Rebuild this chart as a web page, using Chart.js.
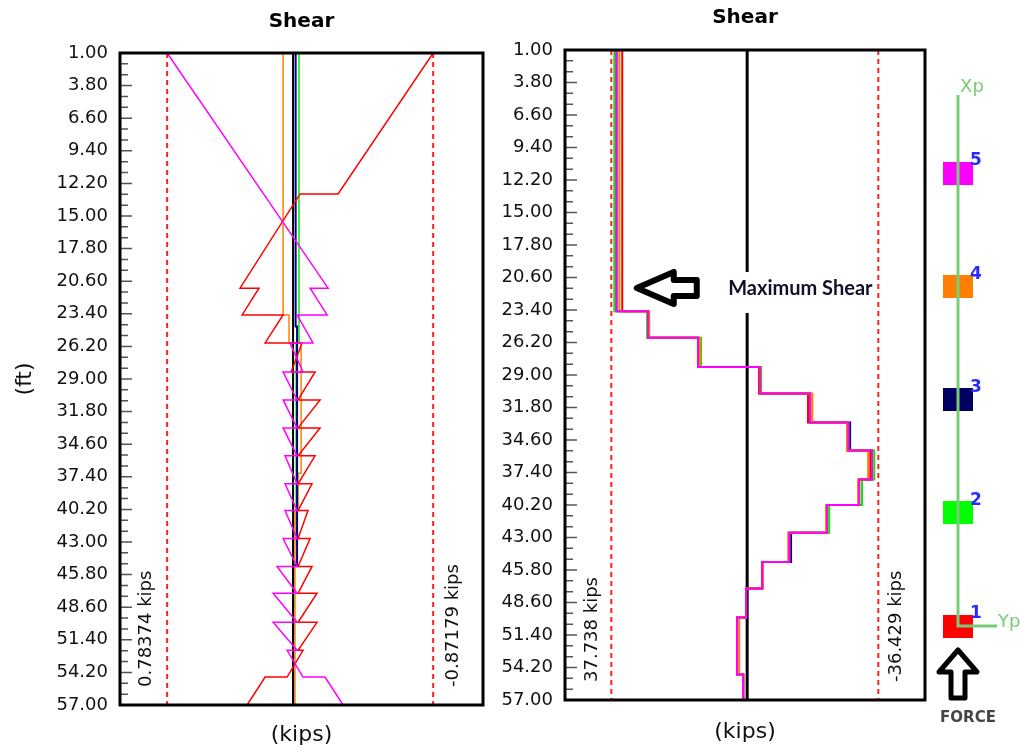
<!DOCTYPE html>
<html>
<head>
<meta charset="utf-8">
<script src="https://cdn.jsdelivr.net/npm/chart.js@4.4.1/dist/chart.umd.min.js"></script>
<style>
  html, body { margin: 0; padding: 0; background: #fff; }
  body { width: 1020px; height: 750px; position: relative; overflow: hidden; }
  canvas { position: absolute; top: 0; }
  #leftChart { left: 0; }
  #rightChart { left: 495px; }
  #pileChart { left: 930px; }
</style>
</head>
<body>
<canvas id="leftChart" width="495" height="750"></canvas>
<canvas id="rightChart" width="445" height="750"></canvas>
<canvas id="pileChart" width="90" height="750"></canvas>
<script>
const FONT = "'DejaVu Sans', sans-serif";

// depth axis labels (ft)
const depthTicks = [1.00, 3.80, 6.60, 9.40, 12.20, 15.00, 17.80, 20.60, 23.40, 26.20, 29.00,
  31.80, 34.60, 37.40, 40.20, 43.00, 45.80, 48.60, 51.40, 54.20, 57.00];

// ---- left panel (small shear, kips) ----
const leftMax = 0.78374;
const leftMin = -0.87179;

const leftMagentaDepth = [1, 21.2, 21.2, 23.5, 23.5, 25.9, 25.9, 28.4, 28.4, 30.8, 30.8, 33.2, 33.2,
  35.6, 35.6, 38.0, 38.0, 40.3, 40.3, 42.7, 42.7, 45.1, 45.1, 47.4, 47.4, 49.9, 49.9, 52.3, 52.3,
  54.6, 54.6, 57];
const leftMagentaShear = [0.78374, -0.218, -0.106, -0.212, -0.025, -0.124, 0.019, -0.062, 0.062, -0.025,
  0.062, -0.025, 0.062, -0.025, 0.050, -0.025, 0.050, -0.025, 0.050, -0.025, 0.062, -0.025, 0.100,
  -0.025, 0.124, -0.025, 0.124, -0.025, 0.037, -0.062, -0.199, -0.311];

const leftRedDepth = [1, 13.1, 13.1, 21.2, 21.2, 23.5, 23.5, 25.9, 25.9, 28.4, 28.4, 30.8, 30.8, 33.2,
  33.2, 35.6, 35.6, 38.0, 38.0, 40.3, 40.3, 42.7, 42.7, 45.1, 45.1, 47.4, 47.4, 49.9, 49.9, 52.3,
  52.3, 54.6, 54.6, 57];
const leftRedShear = [-0.87179, -0.280, -0.044, 0.330, 0.212, 0.317, 0.062, 0.174, -0.056, 0.012, -0.137,
  -0.031, -0.168, -0.031, -0.168, -0.031, -0.137, -0.031, -0.118, -0.031, -0.093, -0.031, -0.106,
  -0.031, -0.118, -0.031, -0.149, -0.031, -0.149, -0.031, -0.062, 0.037, 0.174, 0.286];

const leftOrangeDepth = [1, 23.5, 25.9, 37.1, 40.3, 57];
const leftOrangeShear = [0.062, 0.025, -0.050, -0.031, -0.012, -0.012];
const leftGreenDepth = [1, 25.9, 42.3, 57];
const leftGreenShear = [-0.037, -0.019, 0, 0];
const leftNavyDepth = [1, 24.5, 45.0, 57];
const leftNavyShear = [-0.016, -0.025, 0, 0];

// ---- right panel (step shear, kips) ----
const rightMax = 37.738;
const rightMin = -36.429;
const rightDepth = [1, 23.5, 25.8, 28.3, 30.6, 33.1, 35.5, 38.0, 40.2, 42.6, 45.1, 47.4, 49.9, 54.8, 57];
const rightMagenta = [36.3, 27.5, 13.6, -3.6, -17.5, -28.1, -34.7, -31.1, -22.2, -11.7, -4.2, 0.3, 2.8, 1.1, 1.1];
const rightOrange = [35.5, 27.2, 13.1, -3.6, -18.1, -27.8, -33.6, -30.8, -21.9, -11.4, -4.4, 0.3, 2.2, 1.1, 1.1];
const rightRed = [34.7, 27.5, 13.6, -3.3, -16.9, -27.8, -34.2, -31.1, -22.2, -11.7, -4.2, 0.3, 2.8, 1.1, 1.1];
const rightGreen = [36.9, 27.8, 12.8, -3.9, -17.5, -28.1, -35.3, -31.9, -22.8, -11.7, -4.2, 0.3, 2.8, 1.1, 1.1];
const rightNavy = [36.3, 27.5, 13.6, -3.6, -17.5, -28.6, -34.7, -31.1, -22.2, -12.2, -4.2, 0.3, 2.8, 1.1, 1.1];

// ---- pile diagram ----
const nodeLabels = ['1', '2', '3', '4', '5'];
const nodeLevels = [1, 2, 3, 4, 5];
const nodeColors = ['#ff0000', '#00ff00', '#000060', '#ff8000', '#ff00ff'];
const xpTop = 5.69;
const ypLength = 39;

function toPoints(depths, shear) {
  return depths.map((d, i) => ({ x: shear[i], y: d }));
}

function trace(data, color, width, stepped) {
  return {
    data: data, borderColor: color, backgroundColor: color, borderWidth: width,
    showLine: true, pointRadius: 0, pointHoverRadius: 0, fill: false, stepped: stepped || false
  };
}

function dashed(value, width) {
  const t = trace(toPoints([1, 57], [value, value]), '#ff2020', width);
  t.borderDash = [5, 4];
  return t;
}

// frame + inside depth ticks
function framePlugin() {
  return {
    id: 'frame',
    afterDatasetsDraw(chart) {
      const { ctx, chartArea: a, scales: { y } } = chart;
      ctx.save();
      ctx.strokeStyle = '#555';
      ctx.lineWidth = 1.5;
      ctx.beginPath();
      depthTicks.forEach((t, i) => {
        const py = y.getPixelForValue(t);
        ctx.moveTo(a.left, py); ctx.lineTo(a.left + 12, py);
        if (i < depthTicks.length - 1) {
          const step = (depthTicks[i + 1] - t) / 3;
          for (let k = 1; k < 3; k++) {
            const my = y.getPixelForValue(t + k * step);
            ctx.moveTo(a.left, my); ctx.lineTo(a.left + 8, my);
          }
        }
      });
      ctx.stroke();
      ctx.strokeStyle = '#000';
      ctx.lineWidth = 3;
      ctx.strokeRect(a.left, a.top, a.right - a.left, a.bottom - a.top);
      ctx.restore();
    }
  };
}

// rotated labels beside the envelope lines
function envelopePlugin(items) {
  return {
    id: 'envelope',
    afterDatasetsDraw(chart) {
      const { ctx, chartArea: a, scales: { x } } = chart;
      ctx.save();
      ctx.fillStyle = '#111';
      ctx.font = '18px ' + FONT;
      ctx.textAlign = 'left';
      ctx.textBaseline = 'middle';
      items.forEach(it => {
        const px = x.getPixelForValue(it.value) + it.dx;
        ctx.save();
        ctx.translate(px, a.bottom - it.dy);
        ctx.rotate(-Math.PI / 2);
        ctx.fillText(it.value + ' kips', 0, 0);
        ctx.restore();
      });
      ctx.restore();
    }
  };
}

function depthAxis(width, title) {
  return {
    type: 'linear', min: 1, max: 57, reverse: true,
    afterBuildTicks: s => { s.ticks = depthTicks.map(v => ({ value: v })); },
    afterFit: s => { s.width = width; },
    ticks: {
      callback: v => Number(v).toFixed(2), color: '#111', autoSkip: false, maxRotation: 0,
      padding: 12, font: { family: FONT, size: 18 }
    },
    grid: { display: false, drawTicks: false },
    border: { display: false },
    title: {
      display: !!title, text: title || '', color: '#111',
      font: { family: FONT, size: 22 }, padding: { top: 12, bottom: 0 }
    }
  };
}

function shearAxis(min, max, height, padBottom) {
  return {
    type: 'linear', min: min, max: max, reverse: true,
    afterFit: s => { s.height = height; },
    ticks: { display: false },
    grid: { display: false, drawTicks: false },
    border: { display: false },
    title: {
      display: true, text: '(kips)', color: '#111',
      font: { family: FONT, size: 22 }, padding: { top: 0, bottom: padBottom }
    }
  };
}

function titleOpts(padTop, padBottom) {
  return {
    display: true, text: 'Shear', color: '#000', fullSize: false,
    font: { family: FONT, size: 20, weight: 'bold' },
    padding: { top: padTop, bottom: padBottom }
  };
}

// ---------- left chart ----------
new Chart(document.getElementById('leftChart'), {
  type: 'scatter',
  data: {
    datasets: [
      trace(toPoints(leftMagentaDepth, leftMagentaShear), '#ff00ff', 1.5),
      trace(toPoints(leftRedDepth, leftRedShear), '#ff0000', 1.5),
      trace(toPoints([1, 57], [0, 0]), '#000000', 2),
      trace(toPoints(leftNavyDepth, leftNavyShear), '#000080', 2, 'after'),
      trace(toPoints(leftOrangeDepth, leftOrangeShear), '#ff8000', 1.5, 'after'),
      trace(toPoints(leftGreenDepth, leftGreenShear), '#00ee00', 1.5, 'after'),
      dashed(leftMax, 2),
      dashed(leftMin, 2)
    ]
  },
  options: {
    responsive: false,
    animation: false,
    layout: { padding: { left: 0, right: 12, top: 0, bottom: 0 } },
    plugins: {
      legend: { display: false },
      tooltip: { enabled: false },
      title: titleOpts(10, 19)
    },
    scales: {
      x: shearAxis(-1.182, 1.077, 45, 2),
      y: depthAxis(120, '(ft)')
    }
  },
  plugins: [framePlugin(), envelopePlugin([
    { value: leftMax, dx: -21, dy: 18 },
    { value: leftMin, dx: 20, dy: 18 }
  ])]
});

// ---------- right chart ----------
const maxShearNote = {
  id: 'maxShearNote',
  afterDatasetsDraw(chart) {
    const { ctx, scales: { x, y } } = chart;
    const yc = y.getPixelForValue(21.5);
    const x0 = x.getPixelForValue(0);
    ctx.save();
    // gap in the zero line behind the note
    ctx.fillStyle = '#fff';
    ctx.fillRect(x0 - 4, yc - 16, 8, 41);
    ctx.fillStyle = '#10102a';
    ctx.font = "bold 20px 'Lato', sans-serif";
    ctx.textAlign = 'left';
    ctx.textBaseline = 'middle';
    ctx.fillText('Maximum Shear', x0 - 19, yc + 1);
    // hollow arrow pointing at the shear trace
    const tx = x.getPixelForValue(31.5) + 3;
    ctx.beginPath();
    ctx.moveTo(tx, yc);
    ctx.lineTo(tx + 37, yc - 16);
    ctx.lineTo(tx + 37, yc - 8);
    ctx.lineTo(tx + 60, yc - 8);
    ctx.lineTo(tx + 60, yc + 8);
    ctx.lineTo(tx + 37, yc + 8);
    ctx.lineTo(tx + 37, yc + 16);
    ctx.closePath();
    ctx.fillStyle = '#fff';
    ctx.fill();
    ctx.lineJoin = 'round';
    ctx.lineWidth = 6;
    ctx.strokeStyle = '#000';
    ctx.stroke();
    ctx.restore();
  }
};

new Chart(document.getElementById('rightChart'), {
  type: 'scatter',
  data: {
    datasets: [
      trace(toPoints(rightDepth, rightMagenta), '#ff00ff', 2, 'after'),
      trace(toPoints(rightDepth, rightOrange), '#ff8000', 2, 'after'),
      trace(toPoints(rightDepth, rightRed), '#ff0000', 2, 'after'),
      trace(toPoints(rightDepth, rightGreen), '#00ee00', 2, 'after'),
      trace(toPoints(rightDepth, rightNavy), '#000080', 2, 'after'),
      trace(toPoints([1, 57], [0, 0]), '#000000', 3),
      dashed(rightMax, 2),
      dashed(rightMin, 2)
    ]
  },
  options: {
    responsive: false,
    animation: false,
    layout: { padding: { left: 0, right: 15, top: 0, bottom: 0 } },
    plugins: {
      legend: { display: false },
      tooltip: { enabled: false },
      title: titleOpts(6, 20)
    },
    scales: {
      x: shearAxis(-49.4, 50.6, 50, 5),
      y: depthAxis(70, '')
    }
  },
  plugins: [framePlugin(), envelopePlugin([
    { value: rightMax, dx: -19, dy: 18 },
    { value: rightMin, dx: 18, dy: 18 }
  ]), maxShearNote]
});

// ---------- pile diagram ----------
function nodeBox(color) {
  const c = document.createElement('canvas');
  c.width = 30; c.height = 23;
  const g = c.getContext('2d');
  g.fillStyle = color;
  g.fillRect(0, 0, 30, 23);
  return c;
}

const pileNotes = {
  id: 'pileNotes',
  afterDatasetsDraw(chart) {
    const { ctx, scales: { x, y } } = chart;
    const x0 = x.getPixelForValue(0);
    ctx.save();
    ctx.textBaseline = 'middle';
    ctx.textAlign = 'center';
    ctx.fillStyle = '#2a2aff';
    ctx.font = 'bold 17px ' + FONT;
    nodeLevels.forEach((lv, i) => {
      ctx.fillText(nodeLabels[i], x0 + 18, y.getPixelForValue(lv) - 12);
    });
    ctx.fillStyle = '#78cc78';
    ctx.font = '18px ' + FONT;
    ctx.fillText('Xp', x0 + 14, y.getPixelForValue(xpTop) - 8);
    ctx.textAlign = 'left';
    ctx.fillText('Yp', x.getPixelForValue(ypLength) + 1, y.getPixelForValue(1) - 4);
    // force arrow
    const tip = y.getPixelForValue(1) + 24;
    ctx.beginPath();
    ctx.moveTo(x0, tip);
    ctx.lineTo(x0 + 19, tip + 22);
    ctx.lineTo(x0 + 7, tip + 22);
    ctx.lineTo(x0 + 7, tip + 48);
    ctx.lineTo(x0 - 7, tip + 48);
    ctx.lineTo(x0 - 7, tip + 22);
    ctx.lineTo(x0 - 19, tip + 22);
    ctx.closePath();
    ctx.fillStyle = '#fff';
    ctx.fill();
    ctx.lineJoin = 'round';
    ctx.lineWidth = 5;
    ctx.strokeStyle = '#000';
    ctx.stroke();
    ctx.fillStyle = '#444';
    ctx.textAlign = 'center';
    ctx.font = 'bold 15px ' + FONT;
    ctx.fillText('FORCE', x0 + 10, tip + 68);
    ctx.restore();
  }
};

new Chart(document.getElementById('pileChart'), {
  type: 'scatter',
  data: {
    datasets: [
      trace([{ x: 0, y: xpTop }, { x: 0, y: 1 }, { x: ypLength, y: 1 }], '#78cc78', 3),
      {
        data: nodeLevels.map(lv => ({ x: 0, y: lv })),
        pointStyle: nodeColors.map(nodeBox),
        pointRadius: 15,
        showLine: false
      }
    ]
  },
  options: {
    responsive: false,
    animation: false,
    layout: { padding: 0, autoPadding: false },
    plugins: { legend: { display: false }, tooltip: { enabled: false } },
    scales: {
      x: { type: 'linear', min: -28, max: 62, display: false },
      y: { type: 'linear', min: -0.095, max: 6.528, display: false }
    }
  },
  plugins: [pileNotes]
});
</script>
</body>
</html>
